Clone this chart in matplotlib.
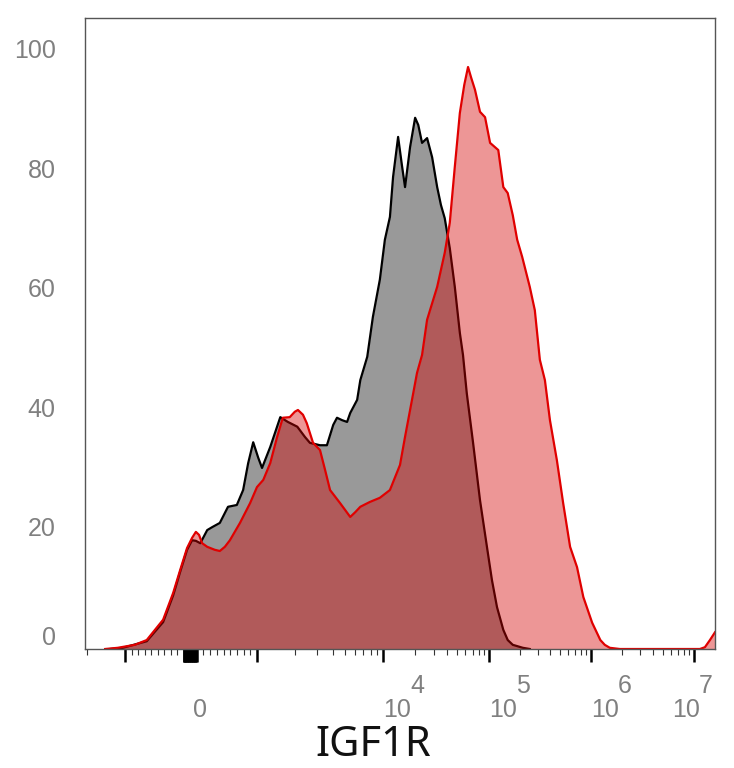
import numpy as np
import matplotlib.pyplot as plt

# histogram channels (0-1000 across the display) and % of max
iso_ch = [40, 60, 98, 124, 140, 151, 162, 170, 176, 183, 194, 202, 214, 227, 241, 251, 259, 267, 275, 281,
          294, 310, 322, 337, 349, 357, 373, 384, 394, 400, 408, 416, 421, 432, 437, 448, 457, 468, 476, 484,
          489, 497, 503, 508, 516, 524, 529, 535, 543, 551, 559, 565, 571, 579, 587, 595, 600, 606, 616, 627,
          638, 646, 654, 664, 671, 679, 695, 706]
iso_pct = [0, 0.2, 1.3, 4.5, 9.0, 12.9, 16.6, 18.2, 18.1, 17.7, 19.9, 20.4, 21.1, 23.8, 24.1, 26.6, 31.1, 34.6, 32.0, 30.3,
           33.8, 38.8, 38.0, 37.2, 35.5, 34.5, 34.1, 34.1, 37.5, 38.7, 38.3, 38.0, 39.5, 41.7, 45.0, 48.9, 55.6, 61.8, 68.5, 72.3,
           79.0, 85.7, 81.0, 77.3, 84.0, 88.9, 87.7, 84.7, 85.5, 82.3, 77.3, 74.3, 72.1, 67.1, 60.6, 52.9, 49.2, 42.8, 34.5, 24.9,
           17.1, 11.5, 7.0, 3.2, 1.5, 0.7, 0.2, 0]

igf_ch = [32, 52, 79, 98, 124, 140, 151, 162, 170, 176, 181, 186, 194, 206, 214, 222, 230, 246, 262, 273,
          283, 294, 305, 314, 325, 333, 338, 346, 352, 362, 373, 381, 389, 405, 421, 429, 437, 452, 468, 484,
          500, 508, 521, 527, 535, 543, 559, 571, 579, 587, 595, 602, 608, 613, 619, 627, 635, 643, 656, 664,
          671, 679, 686, 694, 706, 714, 722, 730, 738, 749, 759, 770, 781, 791, 805, 818, 825, 833, 849, 976,
          984, 992, 1000]
igf_pct = [0, 0.2, 0.7, 1.5, 4.9, 9.4, 13.2, 16.9, 18.6, 19.6, 19.1, 17.7, 17.1, 16.6, 16.4, 17.1, 18.2, 21.1, 24.4, 27.1,
           28.3, 31.1, 35.5, 38.7, 38.8, 39.7, 40.0, 39.2, 37.8, 34.5, 33.3, 30.0, 26.6, 24.4, 22.1, 22.9, 23.8, 24.6, 25.3, 26.6,
           30.8, 35.5, 42.8, 46.2, 49.2, 55.1, 60.6, 66.3, 71.3, 80.7, 89.7, 94.4, 97.4, 95.6, 93.6, 89.9, 89.0, 84.7, 83.5, 77.3,
           76.3, 72.6, 68.5, 65.6, 60.6, 56.7, 48.4, 45.0, 38.3, 31.6, 24.4, 17.1, 13.7, 8.7, 4.4, 1.5, 0.7, 0.2, 0, 0,
           0.3, 1.5, 2.8]

# biexponential display: decade index -> channel
anchor_u = [-2, -1, 0, 1, 2, 3, 4, 5]
anchor_ch = [-136.5, 63.5, 166.7, 273.0, 473.0, 641.3, 803.2, 966.7]

y_ticks = [0, 20, 40, 60, 80, 100]
x_labels = [(0, "0", None), (1e4, "10", "4"), (1e5, "10", "5"), (1e6, "10", "6"), (1e7, "10", "7")]


def biex(v):
    v = np.asarray(v, dtype=float)
    a = np.maximum(np.abs(v), 1)
    u = np.where(np.abs(v) <= 1000, v / 1000, np.sign(v) * (1 + np.log10(a / 1000)))
    return np.interp(u, anchor_u, anchor_ch)


near_zero = [s * k for s in (-1, 1) for k in range(10, 101, 10)]
major_vals = [-1000, 0, 1000, 1e4, 1e5, 1e6, 1e7] + near_zero
minor_vals = [-2000] + [s * k for s in (-1, 1) for k in range(200, 1000, 100)]
minor_vals += [k * 10 ** d for d in range(3, 7) for k in range(2, 10)]

fig = plt.figure(figsize=(7.34, 7.68), dpi=100)
ax = fig.add_axes([85 / 734, 1 - 649 / 768, 630 / 734, 631 / 768])

ax.fill_between(iso_ch, iso_pct, color="#999999", lw=0, zorder=1)
ax.plot(iso_ch, iso_pct, color="black", lw=1.6, zorder=2)
ax.fill_between(igf_ch, igf_pct, color=(0.83, 0, 0), alpha=0.41, lw=0, zorder=3)
ax.plot(igf_ch, igf_pct, color="#e00000", lw=1.6, zorder=4)

ax.set_xlim(0, 1000)
ax.set_ylim(0, 105.6)

for s in ax.spines.values():
    s.set_color("#555555")
    s.set_linewidth(1.0)
    s.set_zorder(5)

ax.set_xticks(biex(major_vals))
ax.set_xticks(biex(minor_vals), minor=True)
ax.set_xticklabels([])
ax.tick_params(axis="x", which="major", direction="out", length=9.5, width=1.8, color="black")
ax.tick_params(axis="x", which="minor", direction="out", length=4.5, width=0.8, color="#333333")
ax.set_yticks([])

lab_font = dict(family="Liberation Sans", fontsize=18, color="#808080")

for v in y_ticks:
    dy = 8 if v == 0 else 0
    ax.annotate(str(v), xy=(0, v), xycoords=("axes fraction", "data"), xytext=(-21, dy),
                textcoords="offset points", ha="right", va="center", **lab_font)

for v, base, ex in x_labels:
    dx = -16 if v == 1e7 else (2 if v == 0 else 0)
    ax.annotate(base, xy=(biex(v), 0), xycoords=("data", "axes fraction"), xytext=(dx, -49),
                textcoords="offset points", ha="left", va="baseline", **lab_font)
    if ex:
        ax.annotate(ex, xy=(biex(v), 0), xycoords=("data", "axes fraction"), xytext=(dx + 19.5, -31.7),
                    textcoords="offset points", ha="left", va="baseline", **lab_font)

ax.text(0.457, -0.1696, "IGF1R", transform=ax.transAxes, ha="center", va="baseline",
        family="Noto Sans", fontsize=30, color="#111111")

fig.savefig("out.png", dpi=100)
